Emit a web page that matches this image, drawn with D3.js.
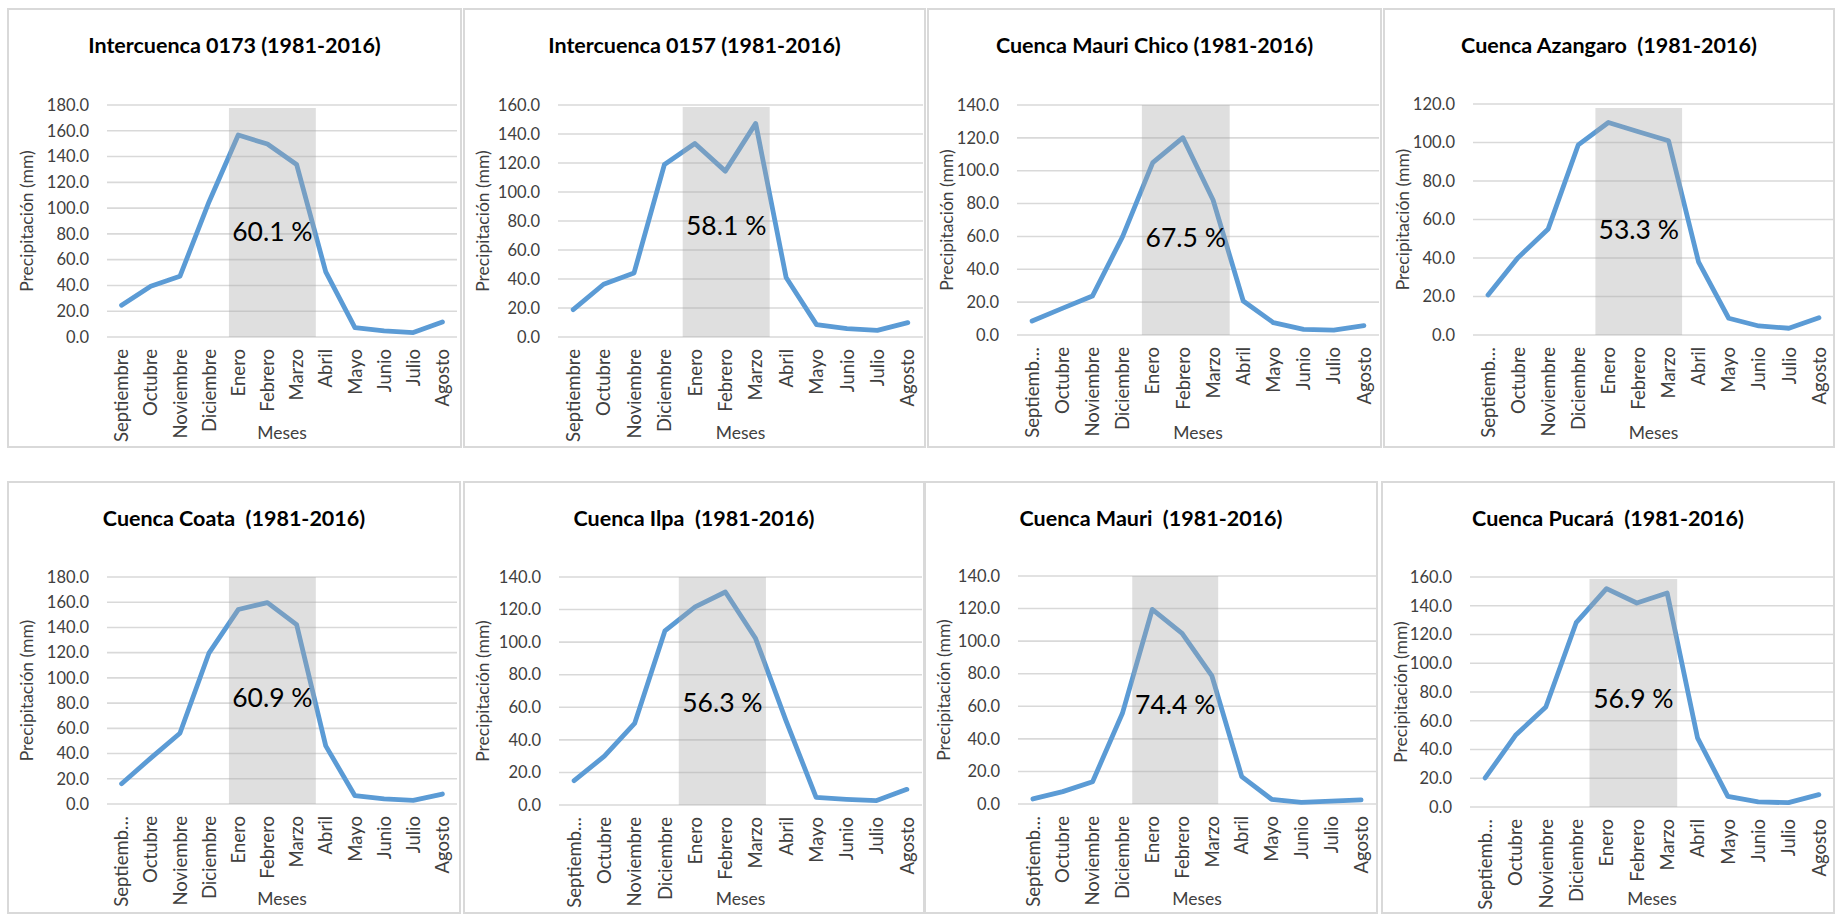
<!DOCTYPE html>
<html lang="es">
<head>
<meta charset="utf-8">
<title>Precipitación mensual por cuenca (1981-2016)</title>
<script src="https://cdn.jsdelivr.net/npm/d3@7/dist/d3.min.js"></script>
<style>
  html, body { margin: 0; padding: 0; background: #ffffff; }
  svg { display: block; }
  text { font-family: Lato, "Open Sans", sans-serif; }
</style>
</head>
<body>
<svg id="chart" width="1836" height="915"></svg>
<script>
// ---- Data -------------------------------------------------------------
const months = ["Septiembre", "Octubre", "Noviembre", "Diciembre", "Enero", "Febrero",
                "Marzo", "Abril", "Mayo", "Junio", "Julio", "Agosto"];
const monthsShort = ["Septiemb…", "Octubre", "Noviembre", "Diciembre", "Enero", "Febrero",
                     "Marzo", "Abril", "Mayo", "Junio", "Julio", "Agosto"];

const titles = [
  "Intercuenca 0173 (1981-2016)",
  "Intercuenca 0157 (1981-2016)",
  "Cuenca Mauri Chico (1981-2016)",
  "Cuenca Azangaro  (1981-2016)",
  "Cuenca Coata  (1981-2016)",
  "Cuenca Ilpa  (1981-2016)",
  "Cuenca Mauri  (1981-2016)",
  "Cuenca Pucará  (1981-2016)"
];

// Mean monthly precipitation (mm), September to August
const inter0173  = [24.6, 39.4, 47.1, 105.0, 156.7, 149.7, 133.9, 50.5, 7.3, 4.7, 3.4, 11.7];
const inter0157  = [18.9, 36.4, 44.2, 119.0, 133.5, 114.4, 147.3, 41.0, 8.5, 5.8, 4.6, 9.9];
const mauriChico = [8.5, 16.2, 23.7, 59.9, 104.9, 120.1, 82.2, 20.7, 7.5, 3.4, 3.0, 5.7];
const azangaro   = [20.8, 40.2, 55.1, 98.8, 110.4, 105.6, 100.9, 37.8, 8.7, 4.7, 3.5, 9.0];
const coata      = [16.1, 36.4, 56.1, 119.9, 154.2, 159.7, 142.3, 46.1, 6.6, 4.0, 2.9, 7.9];
const ilpa       = [14.9, 30.0, 50.1, 106.9, 121.6, 130.8, 102.2, 52.0, 4.7, 3.5, 2.7, 9.6];
const mauri      = [3.1, 7.6, 13.7, 55.7, 119.5, 104.8, 78.6, 16.8, 2.9, 1.0, 1.8, 2.5];
const pucara     = [20.2, 49.9, 69.6, 128.2, 151.9, 141.9, 148.9, 48.1, 7.4, 3.5, 3.0, 8.6];

const series = [inter0173, inter0157, mauriChico, azangaro, coata, ilpa, mauri, pucara];

// Axis maximum (mm) and share of the annual total falling in Enero–Marzo
const axisMax = [180, 160, 140, 120, 180, 140, 140, 160];
const tickStep = 20;
const shares = ["60.1 %", "58.1 %", "67.5 %", "53.3 %", "60.9 %", "56.3 %", "74.4 %", "56.9 %"];
const tickSets = [months, months, monthsShort, monthsShort, monthsShort, monthsShort, monthsShort, monthsShort];

// ---- Layout -----------------------------------------------------------
// frame: [x0, y0, x1, y1]; plot: [left, top, right, bottom]
const layout = [
  { frame: [8, 9, 461, 447],      plot: [107, 105, 457, 337],   shade: [4.18, 7.16], shadeInset: 3, labelDy: 127 },
  { frame: [464, 9, 925, 447],    plot: [558, 105, 923, 337],   shade: [4.10, 6.96], shadeInset: 2, labelDy: 121 },
  { frame: [928, 9, 1381, 447],   plot: [1017, 105, 1379, 335], shade: [4.14, 7.05], shadeInset: 0, labelDy: 133 },
  { frame: [1384, 9, 1834, 447],  plot: [1473, 104, 1834, 335], shade: [4.07, 6.95], shadeInset: 4, labelDy: 126 },
  { frame: [8, 482, 460, 913],    plot: [107, 577, 457, 804],   shade: [4.18, 7.16], shadeInset: 0, labelDy: 121 },
  { frame: [464, 482, 924, 913],  plot: [559, 577, 922, 805],   shade: [3.96, 6.84], shadeInset: 0, labelDy: 126 },
  { frame: [925, 482, 1377, 913], plot: [1018, 576, 1376, 804], shade: [3.83, 6.71], shadeInset: 0, labelDy: 129 },
  { frame: [1382, 482, 1834, 913], plot: [1470, 577, 1834, 807], shade: [3.94, 6.83], shadeInset: 2, labelDy: 122 }
];

const svg = d3.select("#chart");
const fmt = d3.format(".1f");

series.forEach((values, i) => {
  const L = layout[i];
  const [fx0, fy0, fx1, fy1] = L.frame;
  const [pl, pt, pr, pb] = L.plot;
  const g = svg.append("g");

  // panel frame
  g.append("rect")
    .attr("x", fx0).attr("y", fy0)
    .attr("width", fx1 - fx0).attr("height", fy1 - fy0)
    .attr("fill", "#ffffff")
    .attr("stroke", "#d9d9d9").attr("stroke-width", 2);

  const x = d3.scaleBand().domain(months).range([pl, pr]).paddingInner(0).paddingOuter(0);
  const y = d3.scaleLinear().domain([0, axisMax[i]]).range([pb, pt]);
  const bw = x.bandwidth();
  const cx = m => x(m) + bw / 2;
  const ticks = d3.range(0, axisMax[i] + tickStep / 2, tickStep);

  // horizontal gridlines
  g.append("g").selectAll("line").data(ticks).join("line")
    .attr("x1", pl).attr("x2", pr)
    .attr("y1", d => y(d)).attr("y2", d => y(d))
    .attr("stroke", "#d9d9d9").attr("stroke-width", 1.6);

  // y axis
  const yAxis = g.append("g")
    .attr("transform", `translate(${pl},0)`)
    .call(d3.axisLeft(y).tickValues(ticks).tickFormat(fmt).tickSize(0).tickPadding(18));
  yAxis.select(".domain").remove();
  yAxis.selectAll("text")
    .attr("fill", "#404040").style("font-size", "16.5px")
    .style("font-family", "Lato, sans-serif");

  // x axis with vertical month labels
  const labels = tickSets[i];
  const xAxis = g.append("g")
    .attr("transform", `translate(0,${pb})`)
    .call(d3.axisBottom(x).tickSize(0).tickFormat((d, k) => labels[k]));
  xAxis.select(".domain").remove();
  xAxis.selectAll("text")
    .attr("transform", "rotate(-90)")
    .attr("text-anchor", "end")
    .attr("x", -12).attr("y", 0).attr("dy", "0.36em")
    .attr("fill", "#404040").style("font-size", "18.5px")
    .style("font-family", "Lato, sans-serif");

  // precipitation line
  const line = d3.line().x((d, k) => cx(months[k])).y(d => y(d));
  g.append("path")
    .datum(values)
    .attr("d", line)
    .attr("fill", "none")
    .attr("stroke", "#5b9bd5")
    .attr("stroke-width", 4.8)
    .attr("stroke-linejoin", "round")
    .attr("stroke-linecap", "round");

  // translucent band over the Enero–Marzo months
  const sx0 = pl + L.shade[0] * bw;
  const sx1 = pl + L.shade[1] * bw;
  g.append("rect")
    .attr("x", sx0).attr("y", pt + L.shadeInset)
    .attr("width", sx1 - sx0).attr("height", pb - pt - L.shadeInset)
    .attr("fill", "#a6a6a6").attr("fill-opacity", 0.36);

  // share label
  g.append("text")
    .attr("x", (sx0 + sx1) / 2).attr("y", pt + L.labelDy)
    .attr("text-anchor", "middle").attr("dy", "0.35em")
    .attr("fill", "#000000").style("font-size", "26.5px")
    .text(shares[i]);

  // chart title
  g.append("text")
    .attr("x", (fx0 + fx1) / 2).attr("y", fy0 + 36)
    .attr("text-anchor", "middle").attr("dy", "0.35em")
    .attr("fill", "#000000").style("font-size", "21.5px").style("font-weight", "700")
    .attr("xml:space", "preserve").style("white-space", "pre")
    .text(titles[i]);

  // axis titles
  g.append("text")
    .attr("transform", `translate(${fx0 + 19},${(pt + pb) / 2}) rotate(-90)`)
    .attr("text-anchor", "middle").attr("dy", "0.35em")
    .attr("fill", "#404040").style("font-size", "17.5px")
    .text("Precipitación (mm)");

  g.append("text")
    .attr("x", (pl + pr) / 2).attr("y", fy1 - 14)
    .attr("text-anchor", "middle").attr("dy", "0.35em")
    .attr("fill", "#404040").style("font-size", "17.5px")
    .text("Meses");
});
</script>
</body>
</html>
